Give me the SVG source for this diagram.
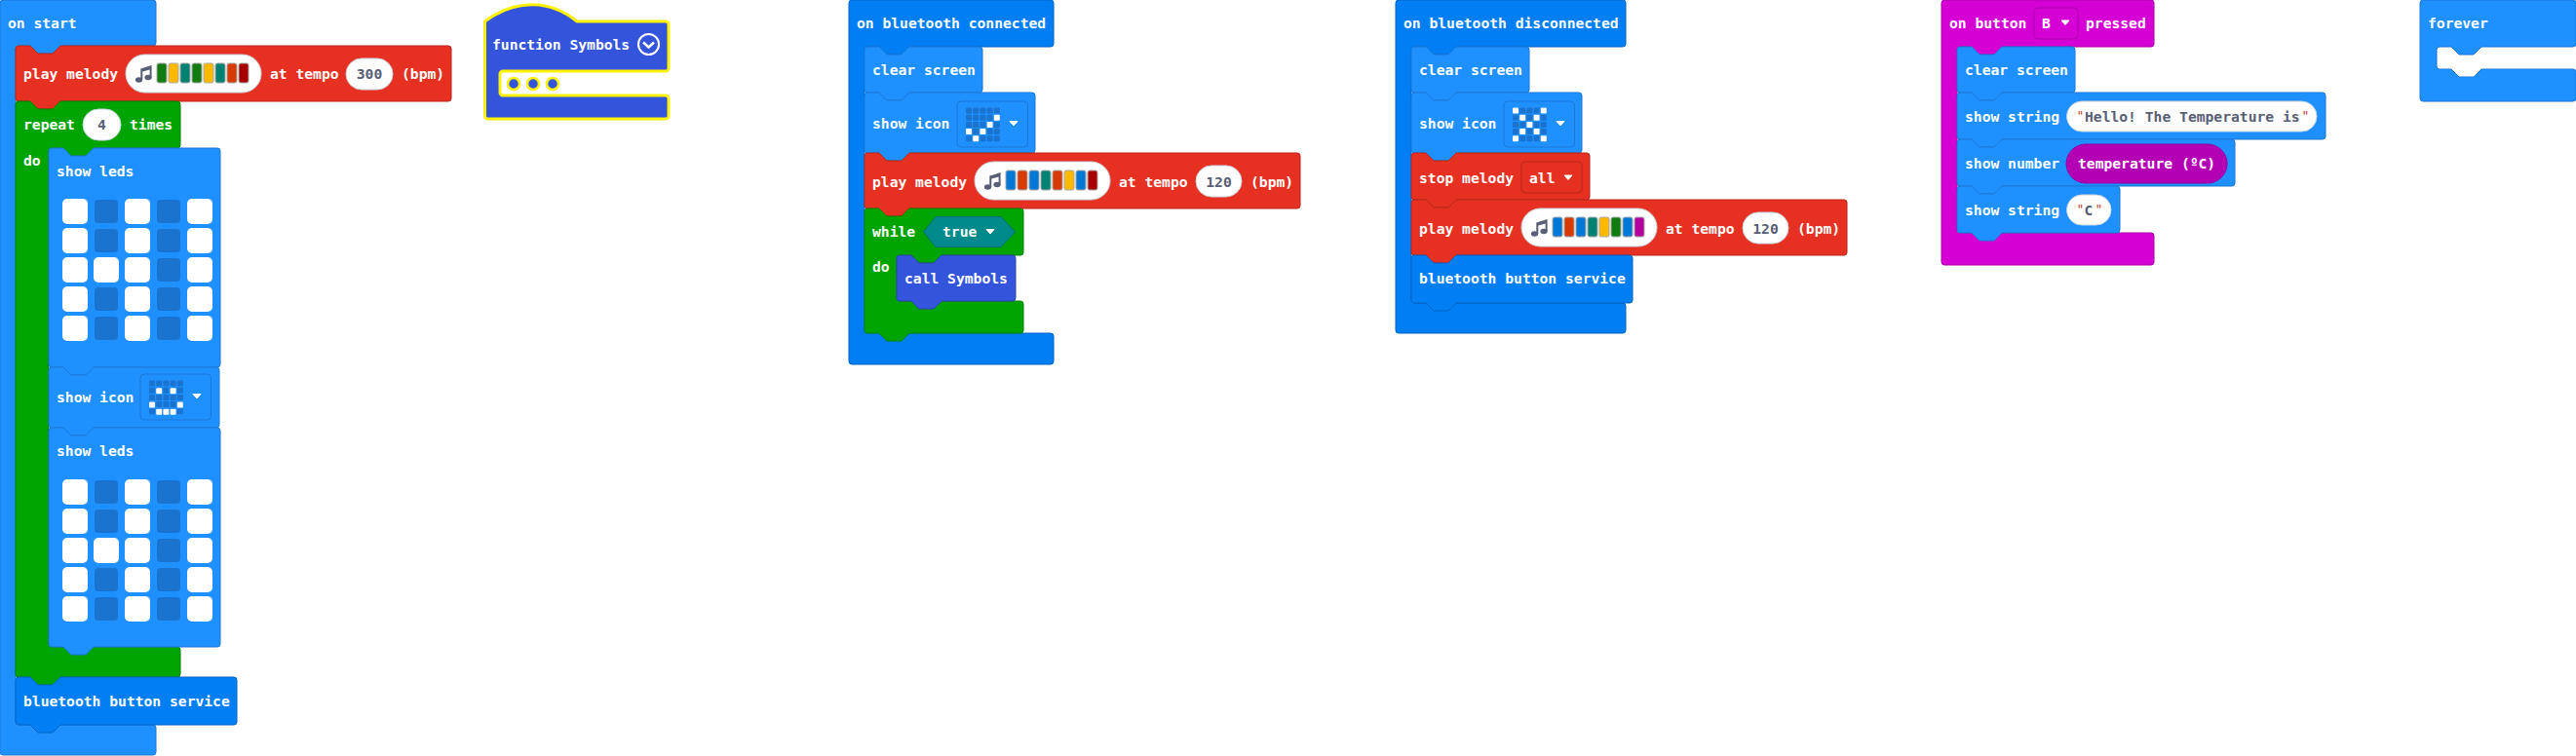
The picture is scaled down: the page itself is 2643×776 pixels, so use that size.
<svg xmlns="http://www.w3.org/2000/svg" xmlns:xlink="http://www.w3.org/1999/xlink" width="2643" height="776" viewBox="0 0 2643 776">
<style>
text{font-family:"DejaVu Sans Mono","Liberation Mono",monospace;font-size:14.67px;font-weight:bold;fill:#fff;white-space:pre}
text.v{fill:#575e75}
text.m{text-anchor:middle}
text.q{fill:#c0392b;font-weight:normal;font-size:13px}
.blk{stroke-width:1}
.ev{fill:#1e90ff;stroke:#1a78d6}
.bt{fill:#007ef4;stroke:#0065c3}
.rd{fill:#e63022;stroke:#b8261b}
.gr{fill:#00a400;stroke:#008300}
.fn{fill:#3455db;stroke:#2a44af}
.mg{fill:#d400d4;stroke:#aa00aa}
.pill{fill:#fff;stroke:#c9d3e0;stroke-width:1}
.dk{fill:#1a73cf}
.wt{fill:#fff}
.dd-bl{fill:#1e90ff;stroke:#1a78d6;stroke-width:1}
.dd-rd{fill:#e63022;stroke:#b8261b;stroke-width:1}
.dd-mg{fill:#d400d4;stroke:#aa00aa;stroke-width:1}
.arr{fill:#fff;stroke:#fff;stroke-width:1;stroke-linejoin:round}
.bar{stroke:#a6a6a6;stroke-width:1}
.c-g{fill:#107c10}.c-y{fill:#ffb900}.c-t{fill:#008272}.c-o{fill:#d83b01}.c-r{fill:#a80000}.c-b{fill:#0078d7}.c-p{fill:#b4009e}
</style>
<defs>
<path id="s-clear" d="M0,3a3,3 0 0 1 3,-3H15l8,8H38l8,-8H118a3,3 0 0 1 3,3V44a3,3 0 0 1 -3,3H46l-8,8H23l-8,-8H3a3,3 0 0 1 -3,-3Z"/>
<path id="s-icon" d="M0,3a3,3 0 0 1 3,-3H15l8,8H38l8,-8H172a3,3 0 0 1 3,3V59a3,3 0 0 1 -3,3H46l-8,8H23l-8,-8H3a3,3 0 0 1 -3,-3Z"/>
<path id="s-melody" d="M0,3a3,3 0 0 1 3,-3H15l8,8H38l8,-8H444a3,3 0 0 1 3,3V54a3,3 0 0 1 -3,3H46l-8,8H23l-8,-8H3a3,3 0 0 1 -3,-3Z"/>
<path id="s-bt" d="M0,3a3,3 0 0 1 3,-3H15l8,8H38l8,-8H224a3,3 0 0 1 3,3V46a3,3 0 0 1 -3,3H46l-8,8H23l-8,-8H3a3,3 0 0 1 -3,-3Z"/>
<path id="s-leds" d="M0,3a3,3 0 0 1 3,-3H15l8,8H38l8,-8H173a3,3 0 0 1 3,3V222a3,3 0 0 1 -3,3H46l-8,8H23l-8,-8H3a3,3 0 0 1 -3,-3Z"/>
<g id="note"><ellipse cx="3.5" cy="15" rx="3.6" ry="2.8" fill="#575e75"/><ellipse cx="13" cy="12.5" rx="3.6" ry="2.8" fill="#575e75"/><path d="M5.3,15V3.6L16.6,0V12.5h-2V4.6L7.3,6.5V15Z" fill="#575e75"/></g>
<g id="mel-pill"><rect class="pill" width="139" height="39" rx="19.5"/><use href="#note" x="10" y="11"/></g>
<g id="grid"><rect class="dk" x="0" y="0" width="6" height="6" rx="1"/><rect class="dk" x="7.2" y="0" width="6" height="6" rx="1"/><rect class="dk" x="14.4" y="0" width="6" height="6" rx="1"/><rect class="dk" x="21.6" y="0" width="6" height="6" rx="1"/><rect class="dk" x="28.8" y="0" width="6" height="6" rx="1"/></g>
<g id="grid25"><use href="#grid"/><use href="#grid" y="7.2"/><use href="#grid" y="14.4"/><use href="#grid" y="21.6"/><use href="#grid" y="28.8"/></g>
<g id="icon-dd"><rect class="dd-bl" width="72.5" height="47" rx="4"/><use href="#grid25" x="9" y="6.5"/><path class="arr" d="M54,20.5h8l-4,4.5Z"/></g>
<g id="ledsW"><rect class="wt" x="0" width="26" height="26" rx="5"/><rect class="dk" x="33" y="1" width="24" height="24" rx="4"/><rect class="wt" x="64" width="26" height="26" rx="5"/><rect class="dk" x="97" y="1" width="24" height="24" rx="4"/><rect class="wt" x="128" width="26" height="26" rx="5"/></g>
<g id="matrix"><use href="#ledsW"/><use href="#ledsW" y="30"/><use href="#ledsW" y="60"/><rect class="wt" x="32" y="60" width="26" height="26" rx="5"/><use href="#ledsW" y="90"/><use href="#ledsW" y="120"/></g>
</defs>
<rect width="2643" height="776" fill="#fff"/>
<g id="connectors"/>

<g id="on-start">
<path class="ev blk" d="M0,3a3,3 0 0 1 3,-3H157a3,3 0 0 1 3,3V44a3,3 0 0 1 -3,3H62l-8,8H39l-8,-8H19a3,3 0 0 0 -3,3V741a3,3 0 0 0 3,3H157a3,3 0 0 1 3,3V772a3,3 0 0 1 -3,3H3a3,3 0 0 1 -3,-3Z"/>
<text x="8" y="29">on start</text>
</g>
<g id="start-melody" transform="translate(16,47)">
<use href="#s-melody" class="rd blk"/>
<text x="8" y="34">play melody</text>
<use href="#mel-pill" x="113" y="9"/>
<g class="bar"><rect class="c-g" x="145" y="18" width="10" height="20" rx="2"/><rect class="c-y" x="157" y="18" width="10" height="20" rx="2"/><rect class="c-t" x="169" y="18" width="10" height="20" rx="2"/><rect class="c-g" x="181" y="18" width="10" height="20" rx="2"/><rect class="c-y" x="193" y="18" width="10" height="20" rx="2"/><rect class="c-t" x="205" y="18" width="10" height="20" rx="2"/><rect class="c-o" x="217" y="18" width="10" height="20" rx="2"/><rect class="c-r" x="229" y="18" width="10" height="20" rx="2"/></g>
<text x="261" y="34">at tempo</text>
<rect class="pill" x="339" y="13" width="48" height="32" rx="16"/>
<text class="v m" x="363" y="34">300</text>
<text x="396" y="34">(bpm)</text>
</g>
<g id="repeat">
<path class="gr blk" d="M16,107a3,3 0 0 1 3,-3H31l8,8H54l8,-8H182a3,3 0 0 1 3,3V149a3,3 0 0 1 -3,3H96l-8,8H73l-8,-8H53a3,3 0 0 0 -3,3V661a3,3 0 0 0 3,3H182a3,3 0 0 1 3,3V692a3,3 0 0 1 -3,3H62l-8,8H39l-8,-8H19a3,3 0 0 1 -3,-3Z"/>
<text x="24" y="133">repeat</text>
<rect class="pill" x="85" y="112" width="39" height="32" rx="16"/>
<text class="v m" x="104.500" y="133">4</text>
<text x="133" y="133">times</text>
<text x="24" y="169.500">do</text>
</g>
<g id="show-leds-1" transform="translate(50,152)">
<use href="#s-leds" class="ev blk"/>
<text x="8" y="29">show leds</text>
<use href="#matrix" x="14" y="52"/>
</g>
<g id="show-icon-1" transform="translate(50,377)">
<use href="#s-icon" class="ev blk"/>
<text x="8" y="36">show icon</text>
<use href="#icon-dd" x="94" y="7"/>
<g class="wt"><rect x="110.200" y="21.200" width="6" height="6" rx="1"/><rect x="124.600" y="21.200" width="6" height="6" rx="1"/><rect x="103" y="35.600" width="6" height="6" rx="1"/><rect x="131.800" y="35.600" width="6" height="6" rx="1"/><rect x="110.200" y="42.800" width="6" height="6" rx="1"/><rect x="117.400" y="42.800" width="6" height="6" rx="1"/><rect x="124.600" y="42.800" width="6" height="6" rx="1"/></g>
</g>
<g id="show-leds-2" transform="translate(50,439)">
<use href="#s-leds" class="ev blk"/>
<text x="8" y="29">show leds</text>
<use href="#matrix" x="14" y="53"/>
</g>
<g id="start-bt" transform="translate(16,695)">
<use href="#s-bt" class="bt blk"/>
<text x="8" y="30">bluetooth button service</text>
</g>

<g id="function-symbols">
<path fill="#3455db" stroke="#fff200" stroke-width="3" d="M497.500,22C530,-2 565,0 592,22H683a3,3 0 0 1 3,3V70a3,3 0 0 1 -3,3H516a3,3 0 0 0 -3,3V95a3,3 0 0 0 3,3H683a3,3 0 0 1 3,3V119a3,3 0 0 1 -3,3H500.500a3,3 0 0 1 -3,-3Z"/>
<text x="505" y="51">function Symbols</text>
<circle cx="665.500" cy="45.500" r="10.500" fill="none" stroke="#fff" stroke-width="2"/>
<path d="M660,43.500l5.500,5 5.500,-5" fill="none" stroke="#fff" stroke-width="2.500"/>
<g fill="#3455db" stroke="#fff200" stroke-width="2.500"><circle cx="527" cy="86" r="6"/><circle cx="547" cy="86" r="6"/><circle cx="567" cy="86" r="6"/></g>
</g>

<g id="on-connected">
<path class="bt blk" d="M871,3a3,3 0 0 1 3,-3H1078a3,3 0 0 1 3,3V45a3,3 0 0 1 -3,3H933l-8,8H910l-8,-8H890a3,3 0 0 0 -3,3V339a3,3 0 0 0 3,3H1078a3,3 0 0 1 3,3V371a3,3 0 0 1 -3,3H874a3,3 0 0 1 -3,-3Z"/>
<text x="879" y="29">on bluetooth connected</text>
</g>
<g id="conn-clear" transform="translate(887,48)">
<use href="#s-clear" class="ev blk"/>
<text x="8" y="29">clear screen</text>
</g>
<g id="conn-icon" transform="translate(887,95)">
<use href="#s-icon" class="ev blk"/>
<text x="8" y="37">show icon</text>
<use href="#icon-dd" x="95" y="9"/>
<g class="wt"><rect x="132.800" y="22.700" width="6" height="6" rx="1"/><rect x="125.600" y="29.900" width="6" height="6" rx="1"/><rect x="104" y="37.100" width="6" height="6" rx="1"/><rect x="118.400" y="37.100" width="6" height="6" rx="1"/><rect x="111.200" y="44.300" width="6" height="6" rx="1"/></g>
</g>
<g id="conn-melody" transform="translate(887,157)">
<use href="#s-melody" class="rd blk"/>
<text x="8" y="35">play melody</text>
<use href="#mel-pill" x="113" y="9"/>
<g class="bar"><rect class="c-b" x="145" y="18" width="10" height="20" rx="2"/><rect class="c-o" x="157" y="18" width="10" height="20" rx="2"/><rect class="c-b" x="169" y="18" width="10" height="20" rx="2"/><rect class="c-t" x="181" y="18" width="10" height="20" rx="2"/><rect class="c-o" x="193" y="18" width="10" height="20" rx="2"/><rect class="c-y" x="205" y="18" width="10" height="20" rx="2"/><rect class="c-b" x="217" y="18" width="10" height="20" rx="2"/><rect class="c-r" x="229" y="18" width="10" height="20" rx="2"/></g>
<text x="261" y="35">at tempo</text>
<rect class="pill" x="340" y="13" width="47" height="32" rx="16"/>
<text class="v m" x="363.500" y="35">120</text>
<text x="396" y="35">(bpm)</text>
</g>
<g id="while">
<path class="gr blk" d="M887,217a3,3 0 0 1 3,-3H902l8,8H925l8,-8H1047a3,3 0 0 1 3,3V259a3,3 0 0 1 -3,3H966l-8,8H943l-8,-8H923a3,3 0 0 0 -3,3V306a3,3 0 0 0 3,3H1047a3,3 0 0 1 3,3V339a3,3 0 0 1 -3,3H933l-8,8H910l-8,-8H890a3,3 0 0 1 -3,-3Z"/>
<text x="895" y="243">while</text>
<path d="M947.500,238L960,222.500H1027L1041.500,238L1027,253.500H960Z" fill="#008a8c" stroke="#006e70"/>
<text x="967" y="243">true</text>
<path class="arr" d="M1012,235.500h8l-4,4.500Z"/>
<text x="895" y="279">do</text>
</g>
<g id="call-symbols">
<path class="fn blk" d="M920,265a3,3 0 0 1 3,-3H935l8,8H958l8,-8H1039a3,3 0 0 1 3,3V306a3,3 0 0 1 -3,3H966l-8,8H943l-8,-8H923a3,3 0 0 1 -3,-3Z"/>
<text x="928" y="291">call Symbols</text>
</g>

<g id="on-disconnected">
<path class="bt blk" d="M1432,3a3,3 0 0 1 3,-3H1665a3,3 0 0 1 3,3V45a3,3 0 0 1 -3,3H1494l-8,8H1471l-8,-8H1451a3,3 0 0 0 -3,3V308a3,3 0 0 0 3,3H1665a3,3 0 0 1 3,3V339a3,3 0 0 1 -3,3H1435a3,3 0 0 1 -3,-3Z"/>
<text x="1440" y="29">on bluetooth disconnected</text>
</g>
<g id="disc-clear" transform="translate(1448,48)">
<use href="#s-clear" class="ev blk"/>
<text x="8" y="29">clear screen</text>
</g>
<g id="disc-icon" transform="translate(1448,95)">
<use href="#s-icon" class="ev blk"/>
<text x="8" y="37">show icon</text>
<use href="#icon-dd" x="95" y="9"/>
<g class="wt"><rect x="104" y="15.500" width="6" height="6" rx="1"/><rect x="132.800" y="15.500" width="6" height="6" rx="1"/><rect x="111.200" y="22.700" width="6" height="6" rx="1"/><rect x="125.600" y="22.700" width="6" height="6" rx="1"/><rect x="118.400" y="29.900" width="6" height="6" rx="1"/><rect x="111.200" y="37.100" width="6" height="6" rx="1"/><rect x="125.600" y="37.100" width="6" height="6" rx="1"/><rect x="104" y="44.300" width="6" height="6" rx="1"/><rect x="132.800" y="44.300" width="6" height="6" rx="1"/></g>
</g>
<g id="disc-stop">
<path class="rd blk" d="M1448,160a3,3 0 0 1 3,-3H1463l8,8H1486l8,-8H1628a3,3 0 0 1 3,3V202a3,3 0 0 1 -3,3H1494l-8,8H1471l-8,-8H1451a3,3 0 0 1 -3,-3Z"/>
<text x="1456" y="187.500">stop melody</text>
<rect class="dd-rd" x="1561" y="166" width="62" height="32" rx="4"/>
<text x="1569" y="187.500">all</text>
<path class="arr" d="M1605,180h8l-4,4.500Z"/>
</g>
<g id="disc-melody" transform="translate(1448,205)">
<use href="#s-melody" class="rd blk"/>
<text x="8" y="34.500">play melody</text>
<use href="#mel-pill" x="113" y="9"/>
<g class="bar"><rect class="c-b" x="145" y="18" width="10" height="20" rx="2"/><rect class="c-o" x="157" y="18" width="10" height="20" rx="2"/><rect class="c-b" x="169" y="18" width="10" height="20" rx="2"/><rect class="c-t" x="181" y="18" width="10" height="20" rx="2"/><rect class="c-y" x="193" y="18" width="10" height="20" rx="2"/><rect class="c-g" x="205" y="18" width="10" height="20" rx="2"/><rect class="c-b" x="217" y="18" width="10" height="20" rx="2"/><rect class="c-p" x="229" y="18" width="10" height="20" rx="2"/></g>
<text x="261" y="34.500">at tempo</text>
<rect class="pill" x="340" y="13" width="47" height="32" rx="16"/>
<text class="v m" x="363.500" y="34.500">120</text>
<text x="396" y="34.500">(bpm)</text>
</g>
<g id="disc-bt" transform="translate(1448,262)">
<use href="#s-bt" class="bt blk"/>
<text x="8" y="29">bluetooth button service</text>
</g>

<g id="on-button">
<path class="mg blk" d="M1992,3a3,3 0 0 1 3,-3H2207a3,3 0 0 1 3,3V45a3,3 0 0 1 -3,3H2054l-8,8H2031l-8,-8H2011a3,3 0 0 0 -3,3V236a3,3 0 0 0 3,3H2207a3,3 0 0 1 3,3V269a3,3 0 0 1 -3,3H1995a3,3 0 0 1 -3,-3Z"/>
<text x="2000" y="29">on button</text>
<rect class="dd-mg" x="2087" y="8" width="45" height="32" rx="4"/>
<text x="2095" y="29">B</text>
<path class="arr" d="M2115,21h8l-4,4.500Z"/>
<text x="2140" y="29">pressed</text>
</g>
<g id="btn-clear" transform="translate(2008,48)">
<use href="#s-clear" class="ev blk"/>
<text x="8" y="29">clear screen</text>
</g>
<g id="btn-string-1">
<path class="ev blk" d="M2008,98a3,3 0 0 1 3,-3H2023l8,8H2046l8,-8H2383a3,3 0 0 1 3,3V140a3,3 0 0 1 -3,3H2054l-8,8H2031l-8,-8H2011a3,3 0 0 1 -3,-3Z"/>
<text x="2016" y="125">show string</text>
<rect class="pill" x="2120.500" y="104" width="256.500" height="31" rx="15.500"/>
<text class="q" x="2130.500" y="123">"</text>
<text class="v" x="2139" y="125">Hello! The Temperature is</text>
<text class="q" x="2361.500" y="123">"</text>
</g>
<g id="btn-number">
<path class="ev blk" d="M2008,146a3,3 0 0 1 3,-3H2023l8,8H2046l8,-8H2290a3,3 0 0 1 3,3V188a3,3 0 0 1 -3,3H2054l-8,8H2031l-8,-8H2011a3,3 0 0 1 -3,-3Z"/>
<text x="2016" y="173">show number</text>
<rect x="2120" y="148" width="165" height="40" rx="20" fill="#b400b4" stroke="#9000a0"/>
<text x="2132" y="173">temperature (ºC)</text>
</g>
<g id="btn-string-2">
<path class="ev blk" d="M2008,194a3,3 0 0 1 3,-3H2023l8,8H2046l8,-8H2172a3,3 0 0 1 3,3V236a3,3 0 0 1 -3,3H2054l-8,8H2031l-8,-8H2011a3,3 0 0 1 -3,-3Z"/>
<text x="2016" y="221">show string</text>
<rect class="pill" x="2120.500" y="200" width="45.500" height="31" rx="15.500"/>
<text class="q" x="2130.500" y="219">"</text>
<text class="v m" x="2143" y="221">C</text>
<text class="q" x="2149.500" y="219">"</text>
</g>

<g id="forever">
<path class="ev blk" d="M2483,3a3,3 0 0 1 3,-3H2640a3,3 0 0 1 3,3V45a3,3 0 0 1 -3,3H2546l-8,8H2523l-8,-8H2503a3,3 0 0 0 -3,3V68a3,3 0 0 0 3,3H2515l8,8H2538l8,-8H2640a3,3 0 0 1 3,3V101a3,3 0 0 1 -3,3H2486a3,3 0 0 1 -3,-3Z"/>
<text x="2491" y="29">forever</text>
</g>
</svg>
